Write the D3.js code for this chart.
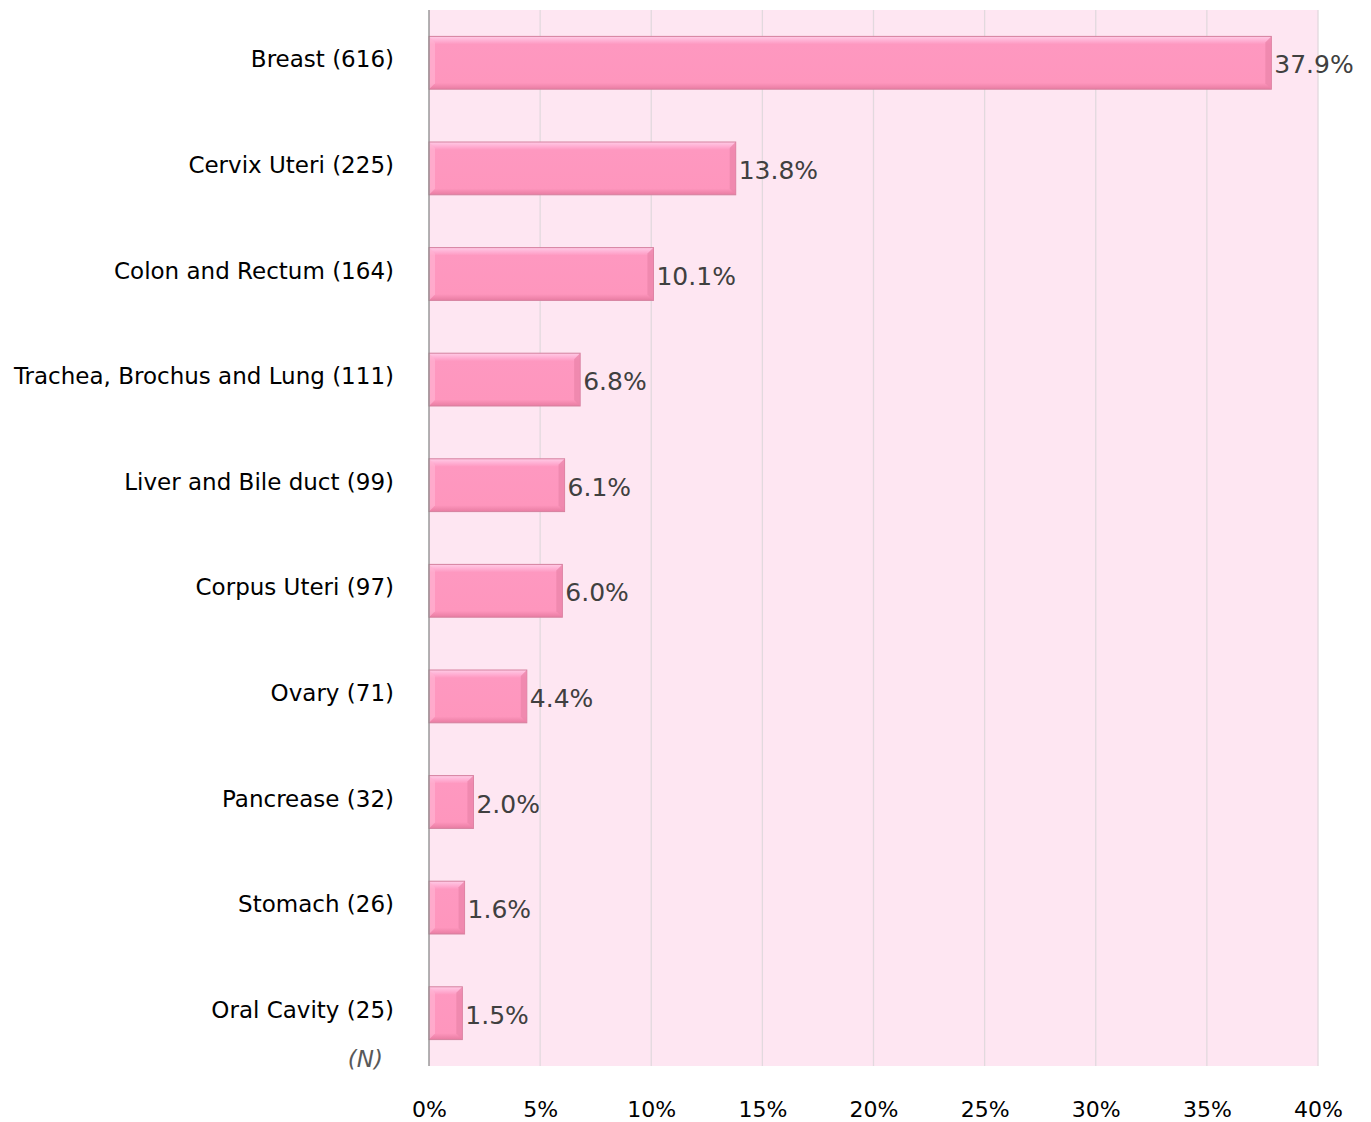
<!DOCTYPE html>
<html>
    <head>
        <script src="https://d3js.org/d3.v7.js"></script>
        <style>
            body{
                margin: 0;
                background: #fff;
            }
            text{
                font-family: "DejaVu Sans", sans-serif;
            }
        </style>
    </head>
    <body>
        <div class="graph"></div>
        <script>
            const categories = ['Breast (616)', 'Cervix Uteri (225)', 'Colon and Rectum (164)', 'Trachea, Brochus and Lung (111)',
                                'Liver and Bile duct (99)', 'Corpus Uteri (97)', 'Ovary (71)', 'Pancrease (32)', 'Stomach (26)', 'Oral Cavity (25)']
            const percents = [37.9, 13.8, 10.1, 6.8, 6.1, 6.0, 4.4, 2.0, 1.6, 1.5]
            const ticks = [0, 5, 10, 15, 20, 25, 30, 35, 40]

            const w = 1371
            const h = 1122
            const pLeft = 429, pRight = 1318, pTop = 10, pBottom = 1066

            const svg = d3.select('.graph')
                    .append('svg')
                    .attr('width', w)
                    .attr('height', h)

            const defs = svg.append('defs')
            const grad = defs.append('linearGradient')
                    .attr('id', 'barGrad')
                    .attr('x1', 0).attr('y1', 0).attr('x2', 0).attr('y2', 1)
            grad.append('stop').attr('offset', '0%').attr('stop-color', '#ffcbe6')
            grad.append('stop').attr('offset', '9%').attr('stop-color', '#ffacd1')
            grad.append('stop').attr('offset', '15%').attr('stop-color', '#fe98c0')
            grad.append('stop').attr('offset', '88%').attr('stop-color', '#fe96bd')
            grad.append('stop').attr('offset', '100%').attr('stop-color', '#e87ca2')

            const x = d3.scaleLinear()
                    .domain([0, 40])
                    .range([pLeft, pRight])

            const y = d3.scaleBand()
                    .domain(categories)
                    .range([pTop, pBottom])
                    .paddingInner(0.5)
                    .paddingOuter(0.25)

            // plot background
            svg.append('rect')
                .attr('x', pLeft).attr('y', pTop)
                .attr('width', pRight - pLeft).attr('height', pBottom - pTop)
                .attr('fill', '#fee6f2')

            // gridlines
            svg.append('g')
                .selectAll('line')
                .data(ticks.slice(1))
                .enter()
                .append('line')
                .attr('x1', d => x(d)).attr('x2', d => x(d))
                .attr('y1', pTop).attr('y2', pBottom)
                .attr('stroke', '#e2d9de')
                .attr('stroke-width', 1.3)

            // x tick labels
            const xAxis = d3.axisBottom(x)
                    .tickValues(ticks)
                    .tickSize(0)
                    .tickPadding(35)
                    .tickFormat(d => d + '%')
            const xg = svg.append('g')
                    .attr('transform', `translate(0,${pBottom})`)
                    .call(xAxis)
            xg.select('.domain').remove()
            xg.selectAll('text')
                .attr('font-family', '"DejaVu Sans", sans-serif')
                .attr('font-size', 22)
                .attr('fill', '#000')

            // category labels
            const yAxis = d3.axisLeft(y)
                    .tickSize(0)
                    .tickPadding(35)
            const yg = svg.append('g')
                    .attr('transform', `translate(${pLeft},0)`)
                    .call(yAxis)
            yg.select('.domain').remove()
            yg.selectAll('text')
                .attr('font-family', '"DejaVu Sans", sans-serif')
                .attr('font-size', 23)
                .attr('fill', '#000')
                .attr('dy', '0.2em')

            svg.append('text')
                .attr('x', 383).attr('y', 1067)
                .attr('text-anchor', 'end')
                .attr('font-style', 'italic')
                .attr('font-size', 23)
                .attr('fill', '#595959')
                .text('(N)')

            // bars
            const bars = svg.append('g')
                    .selectAll('g')
                    .data(percents)
                    .enter()
                    .append('g')

            bars.append('rect')
                .attr('x', x(0))
                .attr('y', (d, i) => y(categories[i]))
                .attr('width', d => x(d) - x(0))
                .attr('height', y.bandwidth())
                .attr('fill', 'url(#barGrad)')
                .attr('stroke', '#d5819f')
                .attr('stroke-width', 1)

            // right bevel edge
            bars.append('path')
                .attr('d', (d, i) => {
                    const x1 = x(d), y0 = y(categories[i]), bh = y.bandwidth()
                    return `M${x1},${y0} L${x1 - 6},${y0 + 6} L${x1 - 6},${y0 + bh - 6} L${x1},${y0 + bh} Z`
                })
                .attr('fill', '#ec86ab')
                .attr('opacity', 0.8)

            // left bevel edge
            bars.append('path')
                .attr('d', (d, i) => {
                    const x0 = x(0), y0 = y(categories[i]), bh = y.bandwidth()
                    return `M${x0},${y0} L${x0 + 6},${y0 + 6} L${x0 + 6},${y0 + bh - 6} L${x0},${y0 + bh} Z`
                })
                .attr('fill', '#ffb2d2')
                .attr('opacity', 0.7)

            // value labels
            bars.append('text')
                .attr('x', d => x(d) + 3)
                .attr('y', (d, i) => y(categories[i]) + y.bandwidth() / 2)
                .attr('dy', '0.42em')
                .attr('font-size', 25)
                .attr('fill', '#404040')
                .text(d => d.toFixed(1) + '%')

            // left axis line
            svg.append('line')
                .attr('x1', pLeft).attr('x2', pLeft)
                .attr('y1', pTop).attr('y2', pBottom)
                .attr('stroke', '#8a8a8a')
                .attr('stroke-width', 1.3)
        </script>
    </body>
</html>
